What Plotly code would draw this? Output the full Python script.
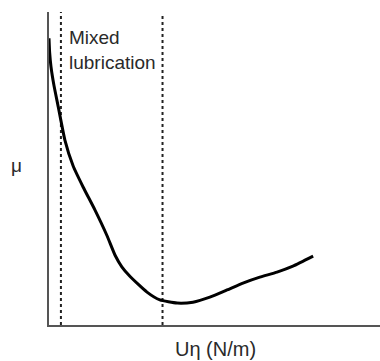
import plotly.graph_objects as go

# Stribeck-type curve: friction coefficient vs. speed x viscosity (arbitrary units)
u_eta = [0.0, 0.02, 0.06, 0.15, 0.28, 0.48, 0.73, 1.03, 1.39, 1.75, 2.0, 2.2,
         2.45, 2.96, 3.35, 3.87, 4.35, 4.86, 5.38, 5.86, 6.37, 6.89, 7.37, 7.98]
mu = [9.16, 8.70, 8.25, 7.65, 6.97, 5.91, 5.08, 4.41, 3.67, 2.86, 2.22, 1.86,
      1.55, 1.05, 0.80, 0.70, 0.73, 0.89, 1.12, 1.34, 1.53, 1.69, 1.88, 2.20]

# Boundaries of the mixed-lubrication regime
regime_bounds = [0.36, 3.43]
regime_tops = [10.0, 9.87]

region_label = "Mixed<br>lubrication"
x_label = "Uη (N/m)"
y_label = "μ"

font_family = "Liberation Sans, Arial, sans-serif"
text_color = "#2a2a2a"

fig = go.Figure()

for xb, top in zip(regime_bounds, regime_tops):
    fig.add_trace(go.Scatter(
        x=[xb, xb], y=[0, top], mode="lines",
        line=dict(color="#222222", width=2, dash="3px,3px"),
        hoverinfo="skip", showlegend=False,
    ))

fig.add_trace(go.Scatter(
    x=u_eta, y=mu, mode="lines",
    line=dict(color="black", width=3, shape="spline", smoothing=0.5),
    showlegend=False,
))

fig.add_annotation(
    x=0.54, y=9.58, xref="x", yref="y", text=region_label, showarrow=False,
    xanchor="left", yanchor="top", align="left",
    font=dict(family=font_family, size=19, color=text_color),
)
fig.add_annotation(
    x=-0.097, y=0.508, xref="paper", yref="paper", text=y_label, showarrow=False,
    xanchor="center", yanchor="middle",
    font=dict(family=font_family, size=19, color=text_color),
)
fig.add_annotation(
    x=0.503, y=-0.077, xref="paper", yref="paper", text=x_label, showarrow=False,
    xanchor="center", yanchor="middle",
    font=dict(family=font_family, size=20, color=text_color),
)

fig.update_xaxes(range=[0, 10], showgrid=False, zeroline=False, showticklabels=False,
                 ticks="", showline=True, linecolor="#555555", linewidth=2)
fig.update_yaxes(range=[0, 10], showgrid=False, zeroline=False, showticklabels=False,
                 ticks="", showline=True, linecolor="#555555", linewidth=2)

fig.update_layout(
    width=380, height=361,
    margin=dict(l=49, r=0, t=12, b=36),
    plot_bgcolor="white", paper_bgcolor="white",
)

fig.write_html("out.html")
